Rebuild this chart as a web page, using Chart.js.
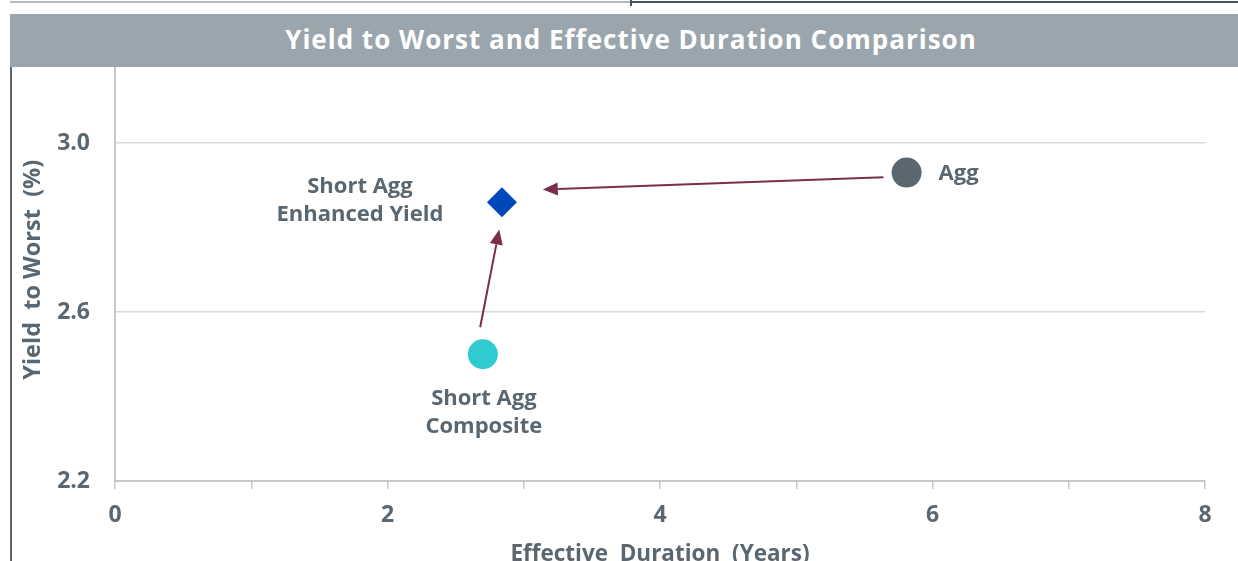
<!DOCTYPE html>
<html>
<head>
<meta charset="utf-8">
<script src="https://cdn.jsdelivr.net/npm/chart.js@4"></script>
<style>
  html, body { margin: 0; padding: 0; background: #fff; overflow: hidden; }
  #wrap { position: relative; width: 1238px; height: 561px; overflow: hidden; }
  #chart { position: absolute; left: 0; top: 0; }
  .title-bar {
    position: absolute; left: 10px; top: 14px; width: 1214px; height: 53px; padding-left: 14px;
    background: #9ba5ad; color: #fff; text-align: center;
    font: bold 26px "Open Sans", sans-serif; letter-spacing: 1px; line-height: 51px;
  }
  .frame-top-l { position: absolute; left: 10px; top: 1px; width: 622px; height: 2px; background: #b4b9be; }
  .frame-top-r { position: absolute; left: 630px; top: 1px; width: 608px; height: 2px; background: #4a5259; }
  .frame-tick { position: absolute; left: 630px; top: 0; width: 2px; height: 6px; background: #4a5259; }
  .frame-left { position: absolute; left: 10px; top: 67px; width: 2px; height: 494px; background: #5b6770; }
</style>
</head>
<body>
<div id="wrap">
  <canvas id="chart" width="1238" height="580"></canvas>
  <div class="frame-top-l"></div>
  <div class="frame-top-r"></div>
  <div class="frame-tick"></div>
  <div class="frame-left"></div>
  <div class="title-bar">Yield to Worst and Effective Duration Comparison</div>
</div>
<script>
// data
const seriesNames = ['Agg', 'Short Agg Enhanced Yield', 'Short Agg Composite'];
const effDuration = [5.81, 2.84, 2.70];
const yieldToWorst = [2.93, 2.86, 2.50];
const pointLabels = [['Agg'], ['Short Agg', 'Enhanced Yield'], ['Short Agg', 'Composite']];
const yTicks = [2.2, 2.6, 3.0];
const xTickLabels = ['0', '', '2', '', '4', '', '6', '', '8'];
// arrows, in data units [duration, yield]
const arrowFrom = [[5.64, 2.919], [2.68, 2.564]];
const arrowTo = [[3.14, 2.890], [2.82, 2.795]];

const textColor = '#5b6770';
const pointColors = ['#5b6770', '#0047ba', '#2fcbd1'];
const pointShapes = ['circle', 'rectRot', 'circle'];
const fontFamily = '"Open Sans", sans-serif';
const labelFont = 'bold 22px ' + fontFamily;

const datasets = seriesNames.map((name, i) => ({
  label: name,
  data: [{x: effDuration[i], y: yieldToWorst[i]}],
  pointStyle: pointShapes[i],
  pointRadius: 15,
  backgroundColor: pointColors[i],
  borderColor: pointColors[i],
  borderWidth: 0
}));

// label placement relative to the marker (pixels)
const labelPlace = [
  {dx: 32, dy: 1, align: 'left'},
  {dx: -142, dy: -15, align: 'center'},
  {dx: 1, dy: 44, align: 'center'}
];

const annotate = {
  id: 'annotate',
  afterDatasetsDraw(chart) {
    const ctx = chart.ctx;
    const xs = chart.scales.x, ys = chart.scales.y;
    ctx.save();
    // arrows
    ctx.strokeStyle = '#7b2d4d';
    ctx.fillStyle = '#7b2d4d';
    ctx.lineWidth = 2;
    for (let i = 0; i < arrowFrom.length; i++) {
      const x1 = xs.getPixelForValue(arrowFrom[i][0]), y1 = ys.getPixelForValue(arrowFrom[i][1]);
      const x2 = xs.getPixelForValue(arrowTo[i][0]), y2 = ys.getPixelForValue(arrowTo[i][1]);
      const ang = Math.atan2(y2 - y1, x2 - x1);
      const hl = 15, hw = 6.5;
      const bx = x2 - hl * Math.cos(ang), by = y2 - hl * Math.sin(ang);
      ctx.beginPath();
      ctx.moveTo(x1, y1);
      ctx.lineTo(bx, by);
      ctx.stroke();
      ctx.beginPath();
      ctx.moveTo(x2, y2);
      ctx.lineTo(bx + hw * Math.sin(ang), by - hw * Math.cos(ang));
      ctx.lineTo(bx - hw * Math.sin(ang), by + hw * Math.cos(ang));
      ctx.closePath();
      ctx.fill();
    }
    // point labels
    ctx.fillStyle = textColor;
    ctx.font = labelFont;
    ctx.textBaseline = 'middle';
    for (let i = 0; i < pointLabels.length; i++) {
      const px = xs.getPixelForValue(effDuration[i]);
      const py = ys.getPixelForValue(yieldToWorst[i]);
      const p = labelPlace[i];
      ctx.textAlign = p.align;
      pointLabels[i].forEach((line, j) => {
        ctx.fillText(line, px + p.dx, py + p.dy + j * 28);
      });
    }
    ctx.restore();
  }
};

new Chart('chart', {
  type: 'scatter',
  data: { datasets: datasets },
  options: {
    responsive: false,
    animation: false,
    layout: { padding: { top: 58.5, right: 33, left: 14, bottom: 0 } },
    plugins: {
      legend: { display: false },
      tooltip: { enabled: false }
    },
    scales: {
      x: {
        type: 'linear',
        min: 0,
        max: 8,
        afterFit(scale) { scale.height = 99; },
        ticks: {
          stepSize: 1,
          padding: 13,
          color: textColor,
          font: { family: fontFamily, weight: 'bold', size: 23 },
          callback: (v, idx) => xTickLabels[idx],
          maxRotation: 0,
          autoSkip: false
        },
        grid: { drawOnChartArea: false, drawTicks: true, tickLength: 8, color: '#c8c8c8', lineWidth: 1.5 },
        border: { color: '#c8c8c8', width: 2 },
        title: {
          display: true,
          text: 'Effective  Duration  (Years)',
          color: textColor,
          font: { family: fontFamily, weight: 'bold', size: 22.5 },
          padding: { top: 0, bottom: 12 }
        }
      },
      y: {
        min: 2.2,
        max: 3.2,
        afterFit(scale) { scale.width = 101; },
        afterBuildTicks(scale) { scale.ticks = yTicks.map(v => ({value: v})); },
        ticks: {
          padding: 25,
          color: textColor,
          font: { family: fontFamily, weight: 'bold', size: 23 },
          callback: v => v.toFixed(1)
        },
        grid: { drawTicks: false, color: '#d9d9d9', lineWidth: 1.5 },
        border: { color: '#c8c8c8', width: 2 },
        title: {
          display: true,
          text: 'Yield  to Worst  (%)',
          color: textColor,
          font: { family: fontFamily, weight: 'bold', size: 23.5 },
          padding: { top: 5, bottom: 0 }
        }
      }
    }
  },
  plugins: [annotate]
});
</script>
</body>
</html>
